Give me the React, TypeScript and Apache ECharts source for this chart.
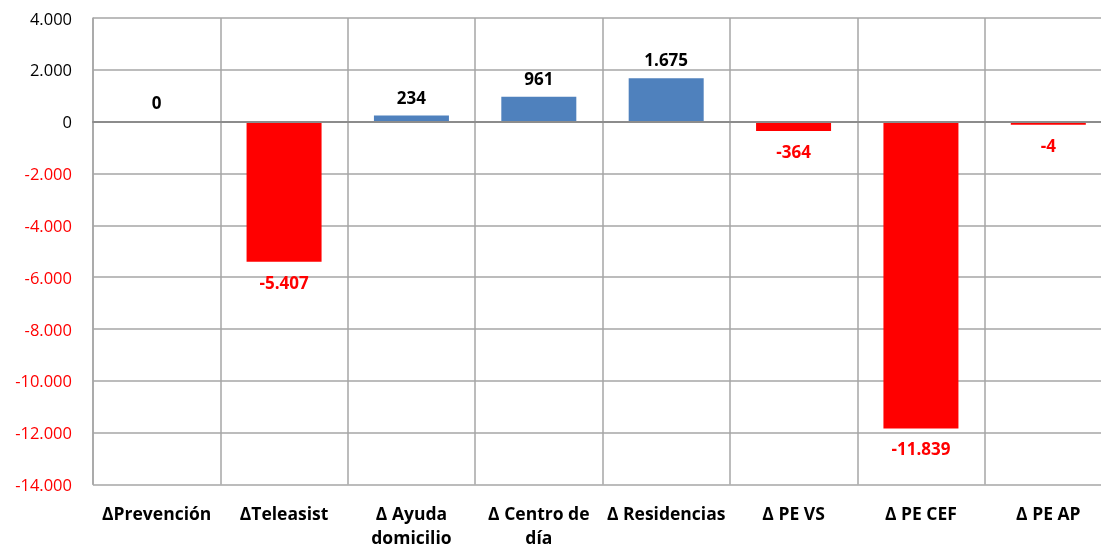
import React, { useEffect, useRef } from "react";
import * as echarts from "echarts";

const categories = ["ΔPrevención", "ΔTeleasist", "Δ Ayuda\ndomicilio", "Δ Centro de\ndía", "Δ Residencias", "Δ PE VS", "Δ PE CEF", "Δ PE AP"];
const values = [0, -5407, 234, 961, 1675, -364, -11839, -4];
const yTicks = { min: -14000, max: 4000, interval: 2000 };

const FONT = "'Open Sans', sans-serif";
const BLUE = "#4f81bd";
const RED = "#ff0000";

function fmt(v: number): string {
  const s = Math.abs(Math.round(v)).toString().replace(/\B(?=(\d{3})+(?!\d))/g, ".");
  return (v < 0 ? "-" : "") + s;
}

export default function App() {
  const ref = useRef<HTMLDivElement>(null);
  useEffect(() => {
    if (!ref.current) return;
    const chart = echarts.init(ref.current, null, { renderer: "svg" });
    chart.setOption({
      animation: false,
      grid: { left: 93, top: 18, width: 1019, height: 466.5, containLabel: false, outerBoundsMode: "none" },
      xAxis: {
        type: "category",
        data: categories,
        z: 5,
        axisTick: { show: false },
        axisLine: { show: true, onZero: true, lineStyle: { color: "#8c8c8c", width: 2 } },
        splitLine: { show: true, interval: 0, lineStyle: { color: "#a6a6a6", width: 1.5 } },
        axisLabel: {
          interval: 0,
          fontFamily: FONT,
          fontWeight: "bold",
          fontSize: 17.5,
          color: "#000",
          lineHeight: 24,
          margin: 16,
          verticalAlign: "top",
        },
      },
      yAxis: {
        type: "value",
        min: yTicks.min,
        max: yTicks.max,
        interval: yTicks.interval,
        axisLine: { show: true, lineStyle: { color: "#a6a6a6", width: 1.5 } },
        axisTick: { show: false },
        splitLine: { show: true, lineStyle: { color: "#a6a6a6", width: 1.5 } },
        axisLabel: {
          fontFamily: FONT,
          fontSize: 16.5,
          margin: 21,
          color: (v: any) => (Number(v) < 0 ? RED : "#000"),
          formatter: (v: number) => fmt(v),
        },
      },
      series: [
        {
          type: "bar",
          barWidth: 75,
          barMinHeight: 3,
          data: values.map((v) => ({
            value: v,
            itemStyle: { color: v === 0 ? "rgba(0,0,0,0)" : v < 0 ? RED : BLUE },
            label: {
              show: true,
              position: v < 0 ? "bottom" : "top",
              distance: v < 0 ? 12 : v === 0 ? 8 : 10,
              color: v < 0 ? RED : "#000",
              fontFamily: FONT,
              fontWeight: "bold",
              fontSize: 17,
              formatter: () => fmt(v),
            },
          })),
        },
      ],
    });
    return () => chart.dispose();
  }, []);
  return <div ref={ref} style={{ position: "fixed", left: 0, top: 0, width: 1101, height: 547 }} />;
}
